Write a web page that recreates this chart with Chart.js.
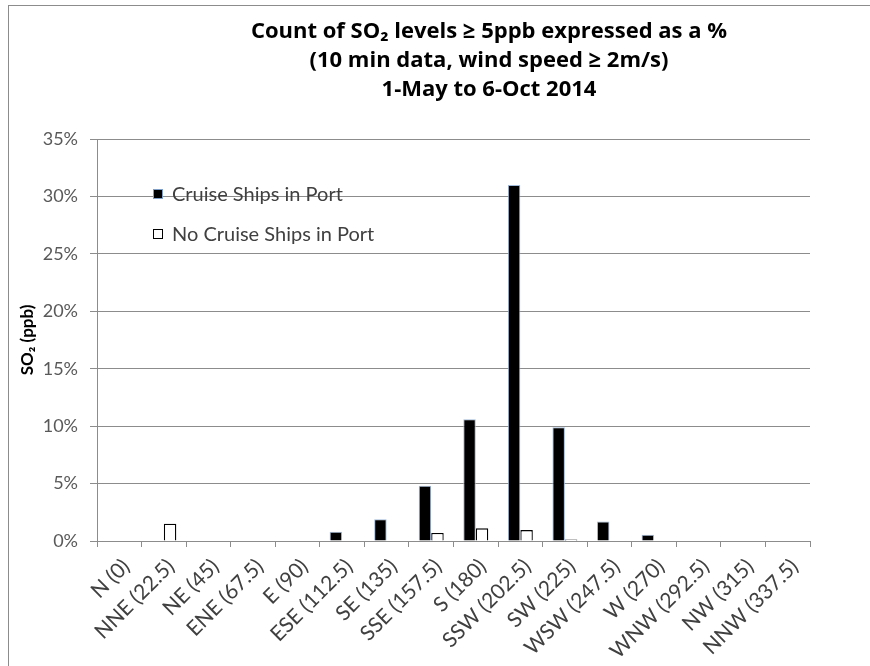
<!DOCTYPE html>
<html>
<head>
<meta charset="utf-8">
<script src="https://cdn.jsdelivr.net/npm/chart.js@4/dist/chart.umd.min.js"></script>
<style>
html,body{margin:0;padding:0;overflow:hidden;background:#fff;}
canvas{display:block;}
</style>
</head>
<body>
<canvas id="c" width="978" height="666"></canvas>
<script>
const categories = ['N (0)','NNE (22.5)','NE (45)','ENE (67.5)','E (90)','ESE (112.5)','SE (135)','SSE (157.5)','S (180)','SSW (202.5)','SW (225)','WSW (247.5)','W (270)','WNW (292.5)','NW (315)','NNW (337.5)'];
const cruiseShips = [0,0,0,0,0,0.8,1.9,4.8,10.6,31.0,9.9,1.7,0.55,0,0,0];
const noCruiseShips = [0,1.5,0,0,0,0,0,0.7,1.1,0.95,0.12,0,0,0,0,0];
const seriesNames = ['Cruise Ships in Port','No Cruise Ships in Port'];
const titleLines = ['Count of SO\u2082 levels \u2265 5ppb expressed as a %','(10 min data, wind speed \u2265 2m/s)','1-May to 6-Oct 2014'];
const yTitle = 'SO\u2082 (ppb)';

const FONT = 'Lato, "Open Sans", sans-serif';
const TFONT = '"Open Sans", Lato, sans-serif';

const frame = {
  id:'frame',
  beforeDraw(chart){
    const ctx = chart.ctx;
    ctx.save();
    ctx.fillStyle='#fff';
    ctx.fillRect(0,0,chart.width,chart.height);
    ctx.strokeStyle='#8c8c8c';
    ctx.lineWidth=1;
    ctx.strokeRect(8.5,5.5,chart.width-16,chart.height+20);
    ctx.restore();
  }
};

const insideLegend = {
  id:'insideLegend',
  afterDatasetsDraw(chart){
    const ctx = chart.ctx;
    ctx.save();
    ctx.font = '20px ' + FONT;
    ctx.textBaseline='middle';
    ctx.textAlign='left';
    const x0 = 153, ys=[194,234];
    chart.data.datasets.forEach((ds,i)=>{
      const y = ys[i];
      ctx.fillStyle = ds.backgroundColor;
      ctx.fillRect(x0, y-5, 10, 10);
      ctx.strokeStyle = ds.legendBorder;
      ctx.lineWidth=1;
      ctx.strokeRect(x0+0.5, y-4.5, 9, 9);
      ctx.fillStyle='#404040';
      ctx.fillText(ds.label, x0+19, y+1);
    });
    ctx.restore();
  }
};

new Chart(document.getElementById('c'), {
  type:'bar',
  data:{
    labels:categories,
    datasets:[
      {label:seriesNames[0], data:cruiseShips, backgroundColor:'#000000', borderColor:'#9fb8d8', borderWidth:1, legendBorder:'#7f9fc8', categoryPercentage:0.56, barPercentage:1.0},
      {label:seriesNames[1], data:noCruiseShips, backgroundColor:'#ffffff', borderColor:'#000000', borderWidth:1.3, legendBorder:'#000000', categoryPercentage:0.56, barPercentage:1.0}
    ]
  },
  options:{
    responsive:false,
    devicePixelRatio:1,
    animation:false,
    layout:{padding:0},
    plugins:{
      legend:{display:false},
      tooltip:{enabled:false},
      title:{display:true, text:titleLines, color:'#000', font:{family:TFONT, size:22, weight:'bold', lineHeight:29/22}, padding:{top:17,bottom:35}}
    },
    scales:{
      x:{
        grid:{display:true, drawOnChartArea:false, drawTicks:true, tickLength:6, color:'#8c8c8c', offset:true},
        border:{display:true, color:'#8c8c8c'},
        ticks:{color:'#404040', font:{family:FONT, size:21}, minRotation:45, maxRotation:45, padding:7, labelOffset:7, autoSkip:false},
        afterFit(s){ s.height = 125; }
      },
      y:{
        min:0, max:35,
        grid:{color:'#8c8c8c', tickLength:7, drawTicks:true},
        border:{display:true, color:'#8c8c8c'},
        ticks:{stepSize:5, color:'#595959', font:{family:FONT, size:18}, padding:12, callback:v=>v+'%'},
        title:{display:true, text:yTitle, color:'#000', font:{family:FONT, size:17, weight:'bold'}, padding:{top:17,bottom:0}},
        afterFit(s){ s.width = 97; }
      },
      yR:{
        position:'right', min:0, max:1,
        grid:{display:false, drawTicks:false},
        border:{display:false},
        ticks:{display:false},
        afterFit(s){ s.width = 168; }
      }
    }
  },
  plugins:[frame, insideLegend]
});
</script>
</body>
</html>
